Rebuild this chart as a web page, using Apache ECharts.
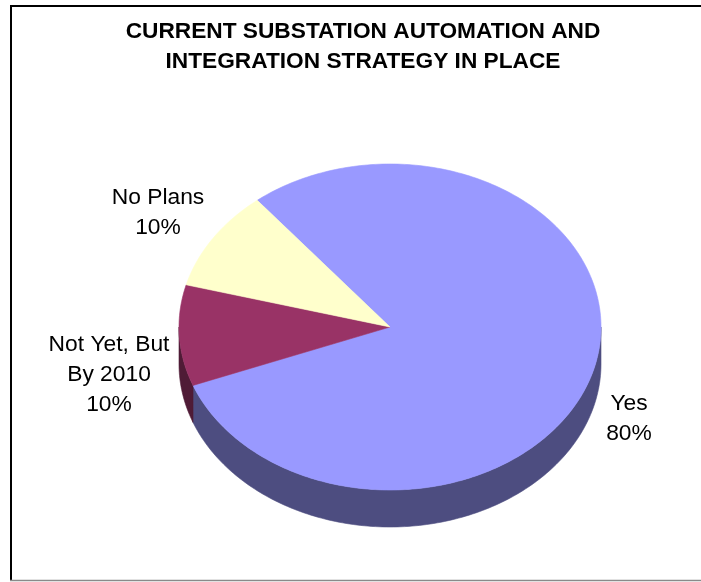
<!DOCTYPE html>
<html>
<head>
<meta charset="utf-8">
<script src="https://cdn.jsdelivr.net/npm/echarts@6/dist/echarts.min.js"></script>
<style>
  html, body { margin: 0; padding: 0; background: #fff; }
  #chart { width: 701px; height: 582px; }
</style>
</head>
<body>
<div id="chart"></div>
<script>
// Survey answers and their shares (percent)
const categories = ['Yes', 'Not Yet, But\nBy 2010', 'No Plans'];
const shares = [80, 10, 10];
const titleLines = ['CURRENT SUBSTATION AUTOMATION AND', 'INTEGRATION STRATEGY IN PLACE'];

// Face colours of the slices and their darker outer walls
const topColors = ['#9999FF', '#993366', '#FFFFCC'];
const sideColors = ['#4D4D80', '#4F1B36', '#80805F'];

// Geometry of the tilted pie (pixels); slices run clockwise from startAngle
const PIE = { cx: 390, cy: 327, rx: 211, ry: 163, depth: 37, startAngle: 129 };
const labelAnchors = [[629, 419], [109, 375], [158, 213]];
const FONT = 'Liberation Sans, Arial, sans-serif';

const total = shares.reduce((a, b) => a + b, 0);

// Angular span [from, to] (math degrees) of slice i
function sliceRange(i) {
  let acc = PIE.startAngle;
  for (let k = 0; k < i; k++) acc -= shares[k] / total * 360;
  const sweep = shares[i] / total * 360;
  return [acc - sweep, acc];
}

function pt(deg, dy) {
  const r = deg * Math.PI / 180;
  return [PIE.cx + PIE.rx * Math.cos(r), PIE.cy - PIE.ry * Math.sin(r) + (dy || 0)];
}

function arc(a0, a1, dy) {
  const n = Math.max(2, Math.ceil(Math.abs(a1 - a0) / 1.0));
  const out = [];
  for (let i = 0; i <= n; i++) out.push(pt(a0 + (a1 - a0) * i / n, dy));
  return out;
}

// Portions of a slice that face the viewer (lower half of the ellipse)
function frontParts(a, b) {
  const parts = [];
  for (let k = -2; k <= 2; k++) {
    const lo = Math.max(a, 180 + 360 * k), hi = Math.min(b, 360 + 360 * k);
    if (hi > lo) parts.push([lo, hi]);
  }
  return parts;
}

const chart = echarts.init(document.getElementById('chart'), null, { renderer: 'canvas' });

chart.setOption({
  animation: false,
  backgroundColor: '#fff',
  graphic: [
    { type: 'line', shape: { x1: 11, y1: 6, x2: 11, y2: 581 }, style: { stroke: '#000', lineWidth: 2 } },
    { type: 'line', shape: { x1: 10, y1: 6, x2: 701, y2: 6 }, style: { stroke: '#000', lineWidth: 2 } },
    { type: 'line', shape: { x1: 10, y1: 580.5, x2: 701, y2: 580.5 }, style: { stroke: '#8a8a8a', lineWidth: 1.5 } },
    {
      type: 'text', x: 363, y: 17,
      style: {
        text: titleLines.join('\n'), fill: '#000', fontSize: 22.7, fontWeight: 'bold',
        fontFamily: FONT, lineHeight: 30, align: 'center', verticalAlign: 'top'
      }
    }
  ],
  series: [
    {
      // outer walls of the pie
      type: 'custom',
      coordinateSystem: 'none',
      z: 1,
      data: shares,
      renderItem: function (params) {
        const i = params.dataIndex;
        const [a, b] = sliceRange(i);
        const children = frontParts(a, b).map(([lo, hi]) => ({
          type: 'polygon',
          shape: { points: arc(lo, hi, 0).concat(arc(hi, lo, PIE.depth)) },
          style: { fill: sideColors[i], stroke: sideColors[i], lineWidth: 0.6 }
        }));
        return { type: 'group', children: children };
      }
    },
    {
      // top faces and labels
      type: 'custom',
      coordinateSystem: 'none',
      z: 2,
      data: shares,
      renderItem: function (params) {
        const i = params.dataIndex;
        const [a, b] = sliceRange(i);
        const pts = [[PIE.cx, PIE.cy]].concat(arc(b, a, 0));
        return {
          type: 'group',
          children: [
            {
              type: 'polygon',
              shape: { points: pts },
              style: { fill: topColors[i], stroke: topColors[i], lineWidth: 0.6 }
            },
            {
              type: 'text',
              x: labelAnchors[i][0], y: labelAnchors[i][1],
              style: {
                text: categories[i] + '\n' + shares[i] + '%',
                fill: '#000', fontSize: 22.8, fontFamily: FONT, lineHeight: 30,
                align: 'center', verticalAlign: 'middle'
              }
            }
          ]
        };
      }
    }
  ]
});
</script>
</body>
</html>
